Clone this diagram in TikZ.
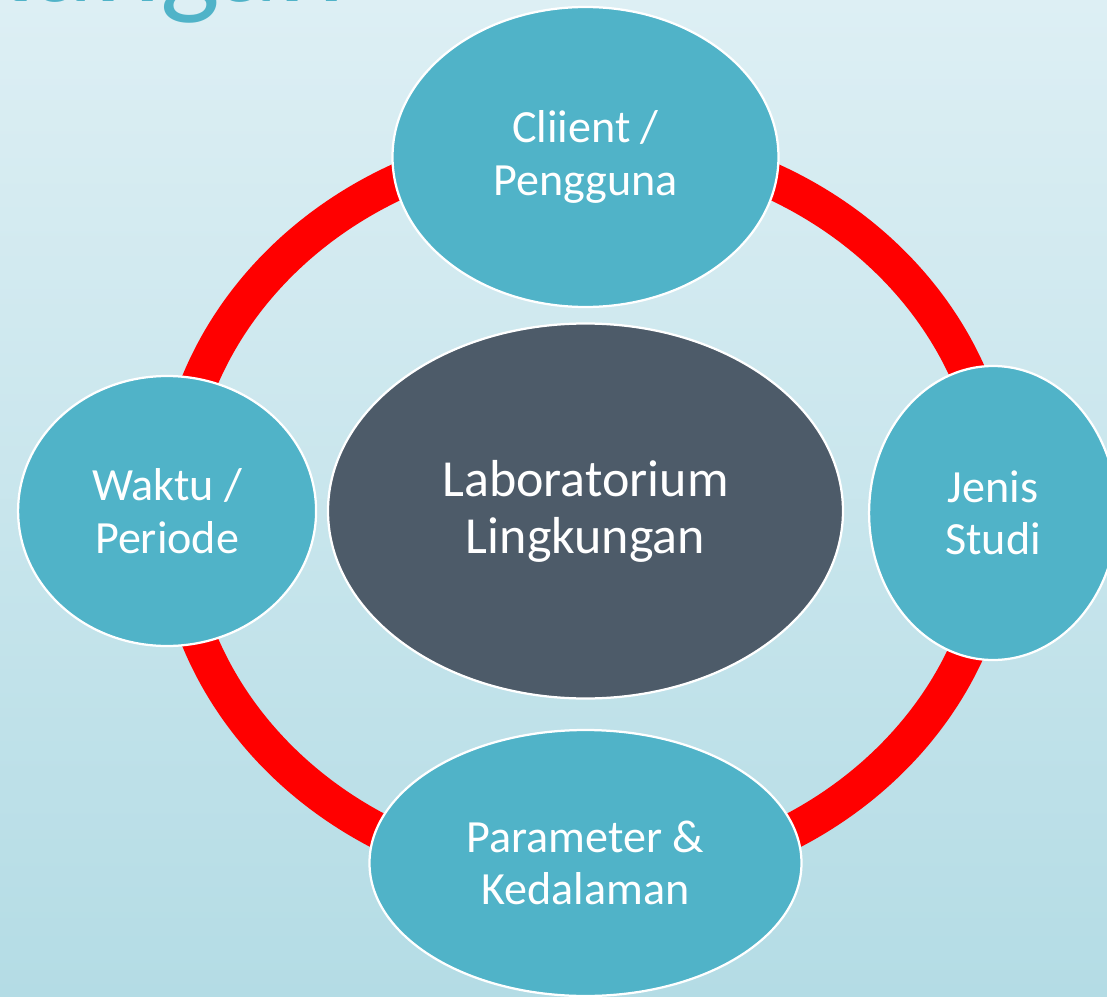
\documentclass[tikz,border=0pt]{standalone}
\usepackage{fontspec}
\setmainfont{Carlito}
\usetikzlibrary{positioning,shapes.geometric}
\definecolor{bgtop}{HTML}{DDEFF4}
\definecolor{bgbot}{HTML}{B4DCE5}
\definecolor{tealfill}{HTML}{50B3C8}
\definecolor{slate}{HTML}{4D5B69}

\begin{document}
\begin{tikzpicture}[on grid,
  topic/.style={ellipse, fill=tealfill, draw=white, line width=1.6pt, inner sep=0pt, text=white, align=center, font=\fontsize{32.8}{37.3}\selectfont},
  hub/.style={ellipse, fill=slate, draw=white, line width=1.6pt, inner sep=0pt, text=white, align=center, font=\fontsize{37}{40.5}\selectfont},
  ring/.style={draw=red, line width=0.9cm}]
\useasboundingbox (-14.6375,-12.125) rectangle (13.0375,12.775);
\clip (-14.6375,-12.125) rectangle (13.0375,12.775);
\shade[top color=bgtop, bottom color=bgbot] (-14.6375,-12.125) rectangle (13.0375,12.775);
%\draw[rounded corners=15pt,thick] (-14,-12) rectangle ++ (27,24);
\node[anchor=base east, text=tealfill, font=\fontsize{90}{90}\selectfont](Title) at (-5.89,12.74){Lingkungan};
\draw(0,0) node[hub, minimum width=12.875cm, minimum height=9.375cm](Lab){Laboratorium\\ Lingkungan};
\draw[ring] (Lab.center) ellipse [x radius=10.3cm, y radius=9.25cm];
\node[topic, above=8.85 of Lab, minimum width=9.65cm, minimum height=7.5cm](Client){Cliient /\\ Pengguna};
\node[topic, left=10.46 of Lab, minimum width=7.45cm, minimum height=6.75cm](Waktu){Waktu /\\ Periode};
\node[topic, right=10.19 of Lab, yshift=-0.05cm, minimum width=6.2cm, minimum height=7.35cm](Studi){Jenis\\ Studi};
\node[topic, below=8.8 of Lab, minimum width=10.8cm, minimum height=6.65cm](Param){Parameter \&\\ Kedalaman};

\end{tikzpicture}
\end{document}
